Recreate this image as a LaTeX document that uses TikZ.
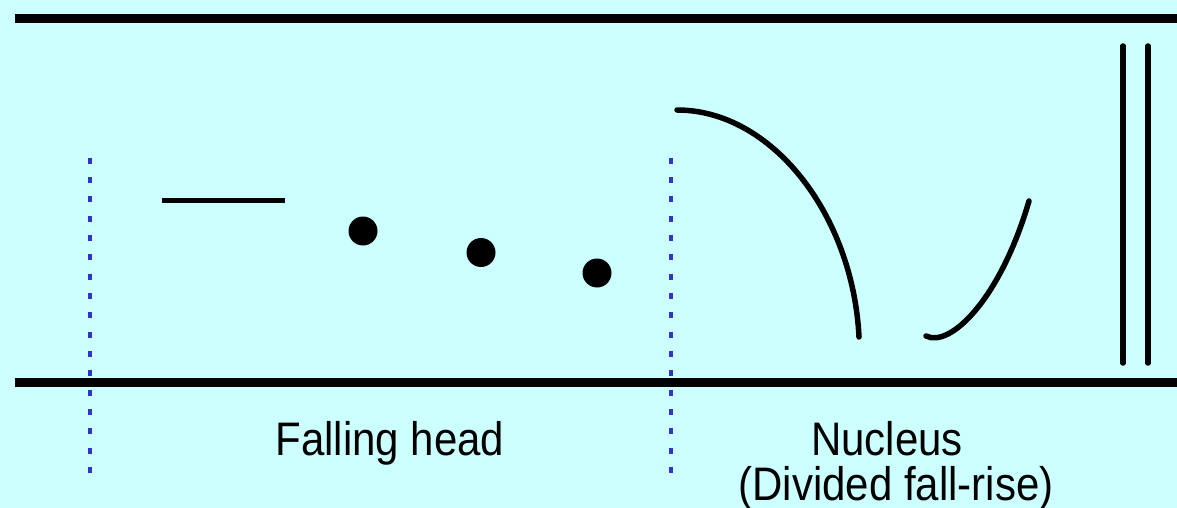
\documentclass[tikz,border=0pt]{standalone}
\usepackage{fontspec}
\setmainfont{Liberation Sans}
\definecolor{bgcyan}{RGB}{204,255,255}
\definecolor{dotblue}{RGB}{51,51,204}
\begin{document}
\begin{tikzpicture}[x=1pt,y=-1pt,
  staff/.style={line width=9pt,black},
  contour/.style={line width=5.5pt,black,line cap=round},
  divider/.style={line width=4pt,dotblue,dash pattern=on 6pt off 13.33pt},
  dotmark/.style={circle,fill=black,inner sep=0pt,minimum size=29pt},
  label/.style={inner sep=0pt,anchor=base,font=\fontsize{42}{46}\selectfont}]
\fill[bgcyan] (0,0) rectangle (1177,508);
\useasboundingbox (0,0) rectangle (1177,508);
% staff lines
\coordinate (tl) at (15,19); \coordinate (tr) at (1177,19);
\coordinate (bl) at (15,382); \coordinate (br) at (1177,382);
\draw[staff] (tl) -- (tr);
\draw[staff] (bl) -- (br);
% dividers
\coordinate (d1a) at (90,157.7); \coordinate (d1b) at (90,476);
\coordinate (d2a) at (670.5,157.7); \coordinate (d2b) at (670.5,476);
\draw[divider] (d1a) -- (d1b);
\draw[divider] (d2a) -- (d2b);
% falling head
\coordinate (h1) at (162,200); \coordinate (h2) at (285,200);
\draw[contour,line width=5pt,line cap=butt] (h1) -- (h2);
\node[dotmark] (s1) at (363,231) {};
\node[dotmark] (s2) at (481,252.5) {};
\node[dotmark] (s3) at (597,273) {};
% nucleus fall
\coordinate (f1) at (677,110); \coordinate (f2) at (859,337);
\draw[contour] (f1) .. controls (772,110) and (853,215) .. (f2);
% rise
\coordinate (r1) at (926,336); \coordinate (r2) at (1029,201);
\draw[contour] (r1) .. controls (950,348) and (1000,300) .. (r2);
% double bar
\coordinate (b1a) at (1123,46); \coordinate (b1b) at (1123,363);
\coordinate (b2a) at (1148,46); \coordinate (b2b) at (1148,363);
\draw[contour] (b1a) -- (b1b);
\draw[contour] (b2a) -- (b2b);
% labels
\node[label] (head) at (390,455) {\scalebox{1}[1.12]{Falling head}};
\node[label] (nuc) at (887,455) {\scalebox{1}[1.12]{Nucleus}};
\node[label] (dfr) at (896,500) {\scalebox{1}[1.12]{(Divided fall-rise)}};
\end{tikzpicture}
\end{document}
